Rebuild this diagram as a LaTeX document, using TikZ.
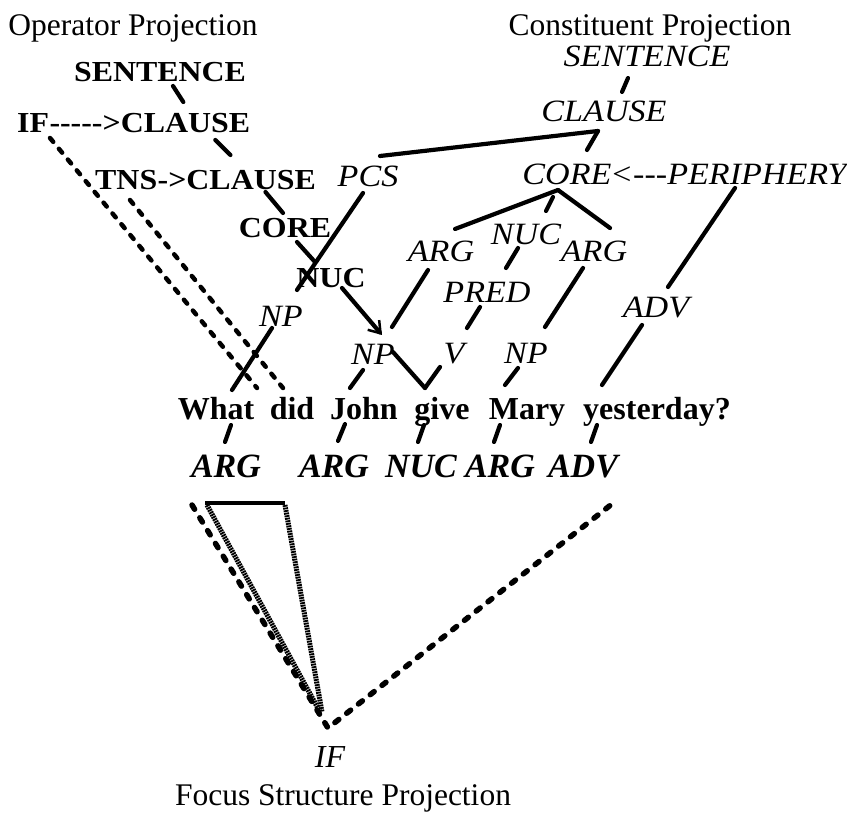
\documentclass[tikz,border=0pt]{standalone}
\usepackage{fontspec}
\setmainfont{Liberation Serif}
\newfontfamily\opfont[FakeStretch=1.1]{Liberation Serif Bold}
\newfontfamily\cfont[FakeStretch=1.1]{Liberation Serif Italic}
\usetikzlibrary{arrows.meta}
\tikzset{
  head/.style={font=\fontsize{31.5}{36}\selectfont, anchor=base, inner sep=0pt},
  oplab/.style={font=\opfont\fontsize{29}{32}\selectfont, inner sep=0pt},
  conlab/.style={font=\cfont\fontsize{31}{34}\selectfont, anchor=base, inner sep=0pt},
  wordlab/.style={font=\bfseries\fontsize{32}{36}\selectfont, anchor=base, inner sep=0pt},
  fnlab/.style={font=\bfseries\itshape\fontsize{34}{38}\selectfont, anchor=base, inner sep=0pt},
  focuslab/.style={font=\itshape\fontsize{32}{36}\selectfont, anchor=base, inner sep=0pt},
  conn/.style={line width=4.2pt, line cap=round},
  opdash/.style={line width=4.5pt, line cap=round, dash pattern=on 5pt off 9pt},
  fsdash/.style={line width=5.5pt, line cap=round, dash pattern=on 5pt off 10pt},
  hatch/.style={line width=5pt, dash pattern=on 1.8pt off 0.8pt},
}
\begin{document}
\begin{tikzpicture}[x=1pt,y=-1pt]
\useasboundingbox (0,0) rectangle (847,813);
% headers
\node[head] (hop) at (133,36) {Operator Projection};
\node[head] (hcon) at (650,36) {Constituent Projection};
\node[head] (hfocus) at (343,805) {Focus Structure Projection};
% operator projection
\node[oplab, anchor=base] (osent) at (160,82) {SENTENCE};
\node[oplab, anchor=base west] (oif) at (17,133) {IF};
\node[oplab, anchor=base west] (oclause1) at (oif.base east) {----->CLAUSE};
\node[oplab, anchor=base west] (otns) at (95,190) {TNS};
\node[oplab, anchor=base west] (oclause2) at (otns.base east) {->CLAUSE};
\node[oplab, anchor=base] (ocore) at (285,238) {CORE};
\node[oplab, anchor=base] (onuc) at (331,288) {NUC};
\coordinate (nuctip) at (382,335);
% constituent projection
\node[conlab] (csent) at (647,67) {SENTENCE};
\node[conlab] (cclause) at (604,122) {CLAUSE};
\node[conlab] (ccore) at (567,185) {CORE};
\node[conlab, anchor=base west] (cperi) at (610,185) {<---PERIPHERY};
\node[conlab] (cpcs) at (368,187) {PCS};
\node[conlab] (carg1) at (441,262) {ARG};
\node[conlab] (cnuc) at (526,245) {NUC};
\node[conlab] (carg2) at (594,262) {ARG};
\node[conlab] (cpred) at (487,303) {PRED};
\node[conlab] (cadv) at (656,318) {ADV};
\node[conlab] (cnp1) at (281,327) {NP};
\node[conlab] (cnp2) at (373,365) {NP};
\node[conlab] (cv) at (454,363) {V};
\node[conlab] (cnp3) at (526,363) {NP};
% sentence
\node[wordlab] (wwhat) at (216,420) {What};
\node[wordlab] (wdid) at (292,420) {did};
\node[wordlab] (wjohn) at (364,420) {John};
\node[wordlab] (wgive) at (442,420) {give};
\node[wordlab] (wmary) at (527,420) {Mary};
\node[wordlab] (wyest) at (657,420) {yesterday?};
% functions
\node[fnlab] (barg1) at (226,477) {ARG};
\node[fnlab] (barg2) at (334,477) {ARG};
\node[fnlab] (bnuc) at (421,477) {NUC};
\node[fnlab] (barg3) at (500,477) {ARG};
\node[fnlab] (badv) at (583,477) {ADV};
% focus
\node[focuslab] (fif) at (330,767) {IF};

% constituent connectors
\draw[conn] ([shift={(-19,11)}]csent.base) -- ([shift={(18,-30)}]cclause.base);
\draw[conn] ([shift={(-6,9)}]cclause.base) -- ([shift={(20,-35)}]ccore.base);
\draw[conn] ([shift={(12,-31)}]cpcs.base) -- ([shift={(-6,9)}]cclause.base);
\draw[conn] ([shift={(-9,5)}]ccore.base) -- ([shift={(14,-33)}]carg1.base);
\draw[conn] ([shift={(-9,5)}]ccore.base) -- ([shift={(16,-34)}]carg2.base);
\draw[conn] ([shift={(-14,12)}]ccore.base) -- ([shift={(20,-34)}]cnuc.base);
\draw[conn] ([shift={(-8,3)}]cnuc.base) -- ([shift={(19,-35)}]cpred.base);
\draw[conn] ([shift={(-7,4)}]cpred.base) -- ([shift={(13,-35)}]cv.base);
\draw[conn] ([shift={(-13,8)}]carg1.base) -- ([shift={(19,-38)}]cnp2.base);
\draw[conn] ([shift={(-11,6)}]carg2.base) -- ([shift={(19,-36)}]cnp3.base);
\draw[conn] ([shift={(125,3)}]cperi.base west) -- ([shift={(12,-31)}]cadv.base);
\draw[conn] ([shift={(-14,7)}]cadv.base) -- ([shift={(-55,-35)}]wyest.base);
\draw[conn] ([shift={(-5,6)}]cpcs.base) -- ([shift={(16,-37)}]cnp1.base);
\draw[conn] ([shift={(-9,1)}]cnp1.base) -- ([shift={(16,-30)}]wwhat.base);
\draw[conn] ([shift={(-10,5)}]cnp2.base) -- ([shift={(-14,-32)}]wjohn.base);
\draw[conn] ([shift={(-8,5)}]cnp3.base) -- ([shift={(-22,-35)}]wmary.base);
\draw[conn] ([shift={(-14,4)}]cv.base) -- ([shift={(-17,-32)}]wgive.base);
\draw[conn] ([shift={(11,17)}]nuctip) -- ([shift={(-17,-32)}]wgive.base);

% operator connectors
\draw[conn] ([shift={(13,4)}]osent.base) -- ([shift={(134,-31)}]oclause1.base west);
\draw[conn] ([shift={(166,7)}]oclause1.base west) -- ([shift={(73,-35)}]oclause2.base west);
\draw[conn] ([shift={(108,2)}]oclause2.base west) -- ([shift={(-2,-25)}]ocore.base);
\draw[conn] ([shift={(12,4)}]ocore.base) -- ([shift={(-16,-26)}]onuc.base);
\draw[conn, -{Straight Barb[length=11pt,width=15pt,line width=2.5pt]}] ([shift={(11,0)}]onuc.base) -- (nuctip);
\draw[opdash] ([shift={(33,5)}]oif.base west) -- ([shift={(-35,-32)}]wdid.base);
\draw[opdash] ([shift={(35,10)}]otns.base west) -- ([shift={(-9,-32)}]wdid.base);

% word to function ticks
\draw[conn] ([shift={(15,5)}]wwhat.base) -- ([shift={(-1,-35)}]barg1.base);
\draw[conn] ([shift={(-19,4)}]wjohn.base) -- ([shift={(4,-36)}]barg2.base);
\draw[conn] ([shift={(-18,5)}]wgive.base) -- ([shift={(-3,-35)}]bnuc.base);
\draw[conn] ([shift={(-27,5)}]wmary.base) -- ([shift={(-6,-35)}]barg3.base);
\draw[conn] ([shift={(-60,5)}]wyest.base) -- ([shift={(8,-35)}]badv.base);

% focus structure projection
\draw[line width=4.5pt] ([shift={(-21,26)}]barg1.base) -- ([shift={(59,26)}]barg1.base);
\draw[hatch] ([shift={(-19,28)}]barg1.base) -- ([shift={(-10,-55)}]fif.base);
\draw[hatch] ([shift={(59,28)}]barg1.base) -- ([shift={(-8,-55)}]fif.base);
\draw[fsdash] ([shift={(-34,28)}]barg1.base) -- ([shift={(-2,-39)}]fif.base) -- ([shift={(34,23)}]badv.base);
\end{tikzpicture}
\end{document}
